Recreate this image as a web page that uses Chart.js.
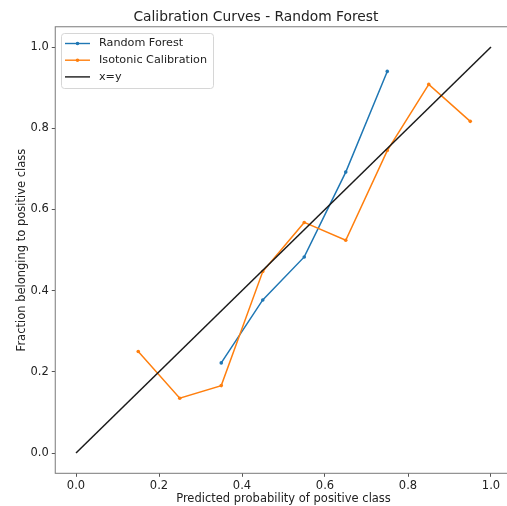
<!DOCTYPE html>
<html>
<head>
<meta charset="utf-8">
<script src="https://cdn.jsdelivr.net/npm/chart.js@4/dist/chart.umd.min.js"></script>
<style>
  html, body { margin: 0; padding: 0; background: #fff; overflow: hidden; }
</style>
</head>
<body>
<canvas id="calib" width="520" height="506"></canvas>
<script>
const titleText = 'Calibration Curves - Random Forest';
const xLabel = 'Predicted probability of positive class';
const yLabel = 'Fraction belonging to positive class';

const rfProb = [0.35, 0.45, 0.55, 0.65, 0.75];
const rfFrac = [0.222, 0.377, 0.483, 0.692, 0.940];

const isoProb = [0.15, 0.25, 0.35, 0.45, 0.55, 0.65, 0.75, 0.85, 0.95];
const isoFrac = [0.250, 0.135, 0.166, 0.447, 0.568, 0.524, 0.745, 0.908, 0.817];

const diagX = [0, 1];
const diagY = [0, 1];

const xTicks = [0.0, 0.2, 0.4, 0.6, 0.8, 1.0];
const yTicks = [0.0, 0.2, 0.4, 0.6, 0.8, 1.0];

const FONT = 'DejaVu Sans';
const toPoints = (xs, ys) => xs.map((x, i) => ({ x: x, y: ys[i] }));

// box round the axes, like matplotlib spines
const framePlugin = {
  id: 'frame',
  afterDatasetsDraw(chart) {
    const { ctx, chartArea: a } = chart;
    ctx.save();
    ctx.strokeStyle = '#7a7a7a';
    ctx.lineWidth = 1;
    ctx.strokeRect(a.left, a.top, a.right - a.left, a.bottom - a.top);
    ctx.restore();
  }
};

// legend drawn inside the plot, upper left
const legendPlugin = {
  id: 'innerLegend',
  afterDraw(chart) {
    const { ctx } = chart;
    const x0 = 61.5, y0 = 33.5, w = 152, h = 55;
    ctx.save();
    ctx.beginPath();
    ctx.roundRect(x0, y0, w, h, 3);
    ctx.fillStyle = 'rgba(255,255,255,0.8)';
    ctx.fill();
    ctx.strokeStyle = '#d6d6d6';
    ctx.lineWidth = 1;
    ctx.stroke();
    ctx.font = '11.2px "' + FONT + '"';
    ctx.textBaseline = 'middle';
    chart.data.datasets.forEach((ds, i) => {
      const yy = 43.5 + i * 16.7;
      ctx.strokeStyle = ds.borderColor;
      ctx.lineWidth = 1.4;
      ctx.beginPath();
      ctx.moveTo(65, yy);
      ctx.lineTo(90, yy);
      ctx.stroke();
      if (ds.pointRadius > 0) {
        ctx.fillStyle = ds.borderColor;
        ctx.beginPath();
        ctx.arc(77.5, yy, 1.8, 0, Math.PI * 2);
        ctx.fill();
      }
      ctx.fillStyle = '#222';
      ctx.fillText(ds.label, 99, yy);
    });
    ctx.restore();
  }
};

new Chart(document.getElementById('calib'), {
  type: 'line',
  data: {
    datasets: [
      {
        label: 'Random Forest',
        data: toPoints(rfProb, rfFrac),
        borderColor: '#1f77b4',
        backgroundColor: '#1f77b4',
        borderWidth: 1.5,
        pointRadius: 1.8,
        pointBorderWidth: 0,
        order: 2
      },
      {
        label: 'Isotonic Calibration',
        data: toPoints(isoProb, isoFrac),
        borderColor: '#ff7f0e',
        backgroundColor: '#ff7f0e',
        borderWidth: 1.5,
        pointRadius: 1.8,
        pointBorderWidth: 0,
        order: 1
      },
      {
        label: 'x=y',
        data: toPoints(diagX, diagY),
        borderColor: '#1a1a1a',
        backgroundColor: '#1a1a1a',
        borderWidth: 1.5,
        pointRadius: 0,
        order: 0
      }
    ]
  },
  options: {
    responsive: false,
    animation: false,
    devicePixelRatio: 1,
    layout: { padding: { left: 0, right: 8.25, top: 0, bottom: 0 } },
    plugins: {
      legend: { display: false },
      tooltip: { enabled: false },
      title: {
        display: true,
        text: titleText,
        color: '#222',
        font: { family: FONT, size: 13.8, weight: 'normal' },
        padding: { top: 9, bottom: 1.2 }
      }
    },
    scales: {
      x: {
        type: 'linear',
        min: -0.05,
        max: 1.05,
        afterBuildTicks: (scale) => { scale.ticks = xTicks.map(v => ({ value: v })); },
        afterFit: (scale) => { scale.height = 32.7; },
        ticks: {
          color: '#222',
          font: { family: FONT, size: 11.5 },
          padding: 2,
          maxRotation: 0,
          callback: (v) => v.toFixed(1)
        },
        grid: { drawOnChartArea: false, drawTicks: true, tickLength: 3.5, color: '#555' },
        border: { display: false },
        title: {
          display: true,
          text: xLabel,
          color: '#222',
          font: { family: FONT, size: 11.5 },
          padding: { top: 0, bottom: 0 }
        }
      },
      y: {
        type: 'linear',
        min: -0.05,
        max: 1.05,
        afterBuildTicks: (scale) => { scale.ticks = yTicks.map(v => ({ value: v })); },
        afterFit: (scale) => { scale.width = 55.25; },
        ticks: {
          color: '#222',
          font: { family: FONT, size: 11.5 },
          padding: 3,
          callback: (v) => v.toFixed(1)
        },
        grid: { drawOnChartArea: false, drawTicks: true, tickLength: 3.5, color: '#555' },
        border: { display: false },
        title: {
          display: true,
          text: yLabel,
          color: '#222',
          font: { family: FONT, size: 11.5 },
          padding: { top: 15, bottom: 0 }
        }
      }
    }
  },
  plugins: [framePlugin, legendPlugin]
});
</script>
</body>
</html>
